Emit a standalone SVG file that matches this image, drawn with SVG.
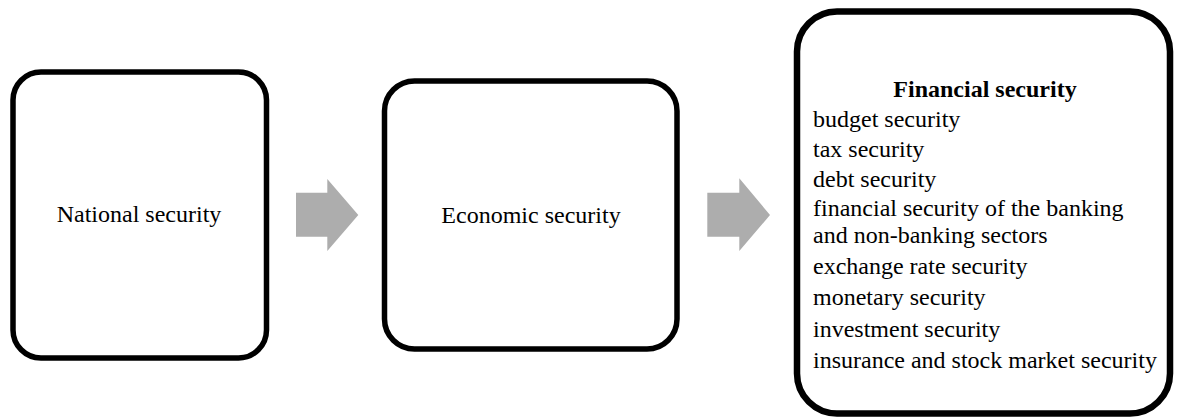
<svg xmlns="http://www.w3.org/2000/svg" width="1177" height="419" viewBox="0 0 1177 419">
<style>
.box{fill:#fff;stroke:#000}
.t{font-family:"Liberation Serif","Times New Roman",serif;font-size:24px;fill:#000}
.c{text-anchor:middle}
.b{font-weight:bold}
.arrow{fill:#adadad;stroke:none}
</style>
<rect width="1177" height="419" fill="#fff"/>
<g id="connectors">
<polygon class="arrow" points="296,192.7 327.3,192.7 327.3,179 358.3,215 327.3,251 327.3,236.7 296,236.7"/>
<polygon class="arrow" points="707.3,192.7 739.3,192.7 739.3,178.3 770,215 739.3,251 739.3,236.7 707.3,236.7"/>
</g>
<g id="national">
<rect class="box" x="13" y="72" width="253.5" height="286" rx="28" ry="28" stroke-width="5.5"/>
<text class="t c" x="139" y="222">National security</text>
</g>
<g id="economic">
<rect class="box" x="384.5" y="81" width="292.5" height="268" rx="30" ry="30" stroke-width="5.5"/>
<text class="t c" x="531" y="223">Economic security</text>
</g>
<g id="financial">
<rect class="box" x="797" y="11.5" width="373" height="402" rx="40" ry="40" stroke-width="6.5"/>
<text class="t c b" x="985" y="97">Financial security</text>
<text class="t" x="813" y="127">budget security</text>
<text class="t" x="813" y="157">tax security</text>
<text class="t" x="813" y="187">debt security</text>
<text class="t" x="813" y="216">financial security of the banking</text>
<text class="t" x="813" y="243">and non-banking sectors</text>
<text class="t" x="813" y="274">exchange rate security</text>
<text class="t" x="813" y="305">monetary security</text>
<text class="t" x="813" y="337">investment security</text>
<text class="t" x="813" y="368">insurance and stock market security</text>
</g>
</svg>
